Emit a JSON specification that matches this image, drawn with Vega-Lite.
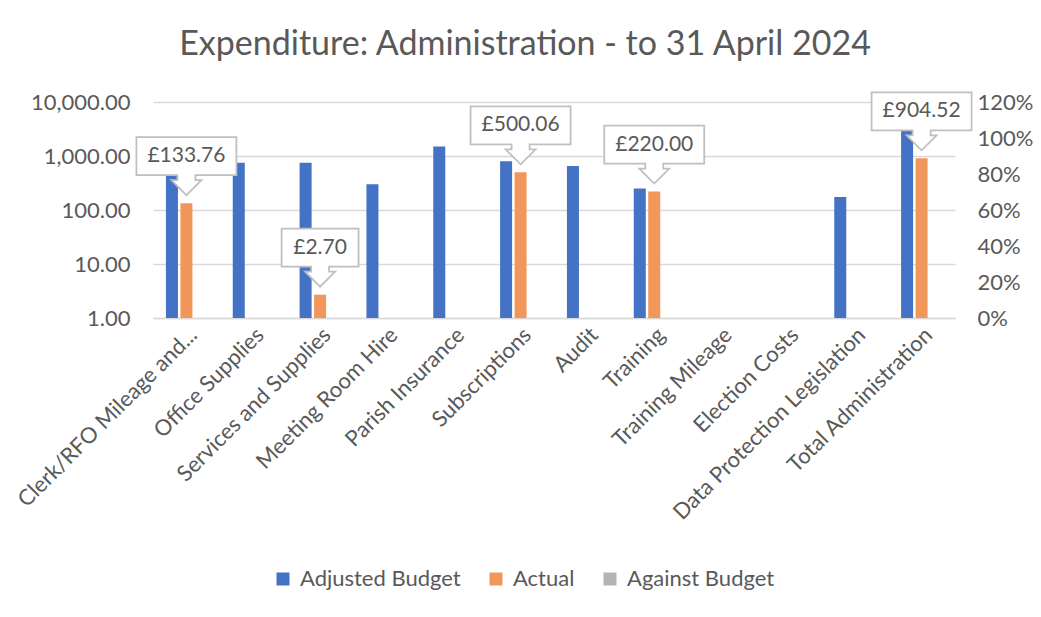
{
  "$schema": "https://vega.github.io/schema/vega-lite/v6.json",
  "width": 802,
  "height": 216,
  "autosize": {"type": "none"},
  "padding": {"left": 153, "top": 102, "right": 86, "bottom": 299},
  "background": "white",
  "config": {
    "font": "Lato",
    "view": {"stroke": null},
    "locale": {"number": {"decimal": ".", "thousands": ",", "grouping": [3], "currency": ["£", ""]}},
    "axis": {"labelFont": "Lato", "labelColor": "#595959", "labelFontSize": 22, "ticks": false, "title": null}
  },
  "title": {
    "text": "Expenditure: Administration - to 31 April 2024",
    "font": "Lato",
    "fontSize": 34,
    "fontWeight": "normal",
    "color": "#595959",
    "anchor": "middle",
    "frame": "group",
    "dx": -29,
    "offset": 27
  },
  "data": {
    "values": [
      {"category": "Clerk/RFO Mileage and Expenses", "series": "Adjusted Budget", "value": 450},
      {"category": "Clerk/RFO Mileage and Expenses", "series": "Actual", "value": 133.76},
      {"category": "Clerk/RFO Mileage and Expenses", "series": "Against Budget", "value": 0},
      {"category": "Office Supplies", "series": "Adjusted Budget", "value": 750},
      {"category": "Office Supplies", "series": "Against Budget", "value": 0},
      {"category": "Services and Supplies", "series": "Adjusted Budget", "value": 750},
      {"category": "Services and Supplies", "series": "Actual", "value": 2.70},
      {"category": "Services and Supplies", "series": "Against Budget", "value": 0},
      {"category": "Meeting Room Hire", "series": "Adjusted Budget", "value": 300},
      {"category": "Meeting Room Hire", "series": "Against Budget", "value": 0},
      {"category": "Parish Insurance", "series": "Adjusted Budget", "value": 1500},
      {"category": "Parish Insurance", "series": "Against Budget", "value": 0},
      {"category": "Subscriptions", "series": "Adjusted Budget", "value": 800},
      {"category": "Subscriptions", "series": "Actual", "value": 500.06},
      {"category": "Subscriptions", "series": "Against Budget", "value": 0},
      {"category": "Audit", "series": "Adjusted Budget", "value": 650},
      {"category": "Audit", "series": "Against Budget", "value": 0},
      {"category": "Training", "series": "Adjusted Budget", "value": 250},
      {"category": "Training", "series": "Actual", "value": 220.00},
      {"category": "Training", "series": "Against Budget", "value": 0},
      {"category": "Training Mileage", "series": "Against Budget", "value": 0},
      {"category": "Election Costs", "series": "Against Budget", "value": 0},
      {"category": "Data Protection Legislation", "series": "Adjusted Budget", "value": 175},
      {"category": "Data Protection Legislation", "series": "Against Budget", "value": 0},
      {"category": "Total Administration", "series": "Adjusted Budget", "value": 5625},
      {"category": "Total Administration", "series": "Actual", "value": 904.52},
      {"category": "Total Administration", "series": "Against Budget", "value": 0}
    ]
  },
  "layer": [
    {
      "layer": [
        {
          "transform": [{"filter": "datum.series != 'Against Budget'"}],
          "mark": {"type": "bar"},
          "encoding": {
            "x": {
              "field": "category", "type": "nominal", "sort": null,
              "scale": {
                "domain": ["Clerk/RFO Mileage and Expenses", "Office Supplies", "Services and Supplies", "Meeting Room Hire", "Parish Insurance", "Subscriptions", "Audit", "Training", "Training Mileage", "Election Costs", "Data Protection Legislation", "Total Administration"],
                "paddingInner": 0.35, "paddingOuter": 0.175
              },
              "axis": {
                "labelAngle": -45, "labelPadding": 6, "labelLimit": 400,
                "domain": true, "domainColor": "#D9D9D9", "domainWidth": 1.5, "grid": false,
                "labelExpr": "datum.value == 'Clerk/RFO Mileage and Expenses' ? 'Clerk/RFO Mileage and...' : datum.label"
              }
            },
            "xOffset": {
              "field": "series", "type": "nominal",
              "scale": {"domain": ["Adjusted Budget", "Actual", "Against Budget"], "paddingInner": 0.17, "paddingOuter": 0.085}
            },
            "y": {
              "field": "value", "type": "quantitative",
              "scale": {"type": "log", "domain": [1, 10000], "nice": false},
              "axis": {
                "orient": "left", "values": [1, 10, 100, 1000, 10000], "format": ",.2f",
                "grid": true, "gridColor": "#D9D9D9", "gridWidth": 1.5, "domain": false, "labelPadding": 23
              }
            },
            "y2": {"datum": 1},
            "color": {
              "field": "series", "type": "nominal",
              "scale": {"domain": ["Adjusted Budget", "Actual", "Against Budget"], "range": ["#4472C4", "#F1975A", "#B4B4B4"]},
              "legend": {
                "orient": "none", "legendX": 119, "legendY": 466, "direction": "horizontal", "title": null,
                "symbolType": "square", "symbolSize": 169, "symbolStrokeWidth": 0, "labelFontSize": 22,
                "labelFont": "Lato", "labelColor": "#595959", "labelOffset": 6, "columnPadding": 24, "labelLimit": 400
              }
            }
          }
        },
        {
          "transform": [{"filter": "datum.series == 'Actual' && datum.value >= 10"}],
          "mark": {
            "type": "point",
            "shape": "M-1,-1.32L1,-1.32L1,-0.56L0.18,-0.56L0.18,-0.46L0.3,-0.46L0,-0.16L-0.3,-0.46L-0.18,-0.46L-0.18,-0.56L-1,-0.56Z",
            "size": 10000, "filled": true, "fill": "white", "stroke": "#BFBFBF", "strokeWidth": 1.75, "opacity": 1
          },
          "encoding": {
            "x": {"field": "category", "type": "nominal", "sort": null},
            "xOffset": {"field": "series", "type": "nominal", "scale": {"domain": ["Adjusted Budget", "Actual", "Against Budget"]}},
            "y": {"field": "value", "type": "quantitative"}
          }
        },
        {
          "transform": [{"filter": "datum.series == 'Actual' && datum.value < 10"}],
          "mark": {
            "type": "point",
            "shape": "M-1,-1.7143L1,-1.7143L1,-0.7273L0.2338,-0.7273L0.2338,-0.5974L0.3896,-0.5974L0,-0.2078L-0.3896,-0.5974L-0.2338,-0.5974L-0.2338,-0.7273L-1,-0.7273Z",
            "size": 5929, "filled": true, "fill": "white", "stroke": "#BFBFBF", "strokeWidth": 1.75, "opacity": 1
          },
          "encoding": {
            "x": {"field": "category", "type": "nominal", "sort": null},
            "xOffset": {"field": "series", "type": "nominal", "scale": {"domain": ["Adjusted Budget", "Actual", "Against Budget"]}},
            "y": {"field": "value", "type": "quantitative"}
          }
        },
        {
          "transform": [{"filter": "datum.series == 'Actual'"}],
          "mark": {"type": "text", "dy": -47, "fontSize": 21, "font": "Lato", "color": "#595959", "baseline": "middle", "align": "center"},
          "encoding": {
            "x": {"field": "category", "type": "nominal", "sort": null},
            "xOffset": {"field": "series", "type": "nominal", "scale": {"domain": ["Adjusted Budget", "Actual", "Against Budget"]}},
            "y": {"field": "value", "type": "quantitative"},
            "text": {"field": "value", "type": "quantitative", "format": "$,.2f"}
          }
        }
      ]
    },
    {
      "transform": [{"filter": "datum.series == 'Against Budget'"}],
      "mark": {"type": "bar"},
      "encoding": {
        "x": {"field": "category", "type": "nominal", "sort": null},
        "xOffset": {"field": "series", "type": "nominal", "scale": {"domain": ["Adjusted Budget", "Actual", "Against Budget"]}},
        "y": {
          "field": "value", "type": "quantitative",
          "scale": {"domain": [0, 1.2], "nice": false},
          "axis": {"orient": "right", "values": [0, 0.2, 0.4, 0.6, 0.8, 1.0, 1.2], "format": ".0%", "grid": false, "domain": false, "labelPadding": 22}
        },
        "color": {"field": "series", "type": "nominal", "scale": {"domain": ["Adjusted Budget", "Actual", "Against Budget"], "range": ["#4472C4", "#F1975A", "#B4B4B4"]}}
      }
    }
  ],
  "resolve": {"scale": {"y": "independent"}}
}
